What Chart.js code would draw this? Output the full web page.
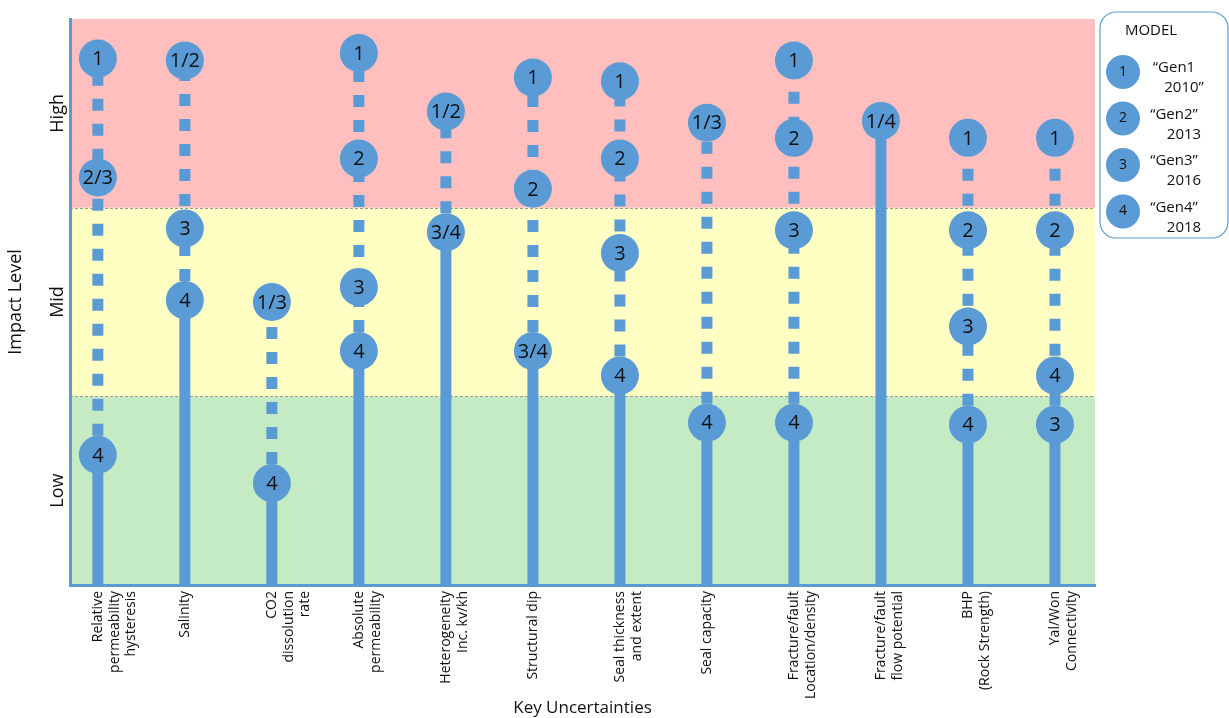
<!DOCTYPE html>
<html>
<head>
<meta charset="utf-8">
<script src="https://cdn.jsdelivr.net/npm/chart.js@4/dist/chart.umd.min.js"></script>
<style>
  body { margin: 0; background: #fff; }
  #wrap { width: 1229px; height: 718px; position: relative; }
</style>
</head>
<body>
<div id="wrap"><canvas id="chart"></canvas></div>
<script>
const categories = [
    ['Relative', 'permeability', 'hysteresis'],
    ['Salinity'],
    ['CO2', 'dissolution', 'rate'],
    ['Absolute', 'permeability'],
    ['Heterogeneity', 'Inc. kv/kh'],
    ['Structural dip'],
    ['Seal thickness', 'and extent'],
    ['Seal capacity'],
    ['Fracture/fault', 'Location/density'],
    ['Fracture/fault', 'flow potential'],
    ['BHP', '(Rock Strength)'],
    ['Yal/Won', 'Connectivity']
];
// impact level per marker (0 = bottom, 1 = low/mid, 2 = mid/high, 3 = top)
const markerLabels = [
    ['1', '2/3', '4'],
    ['1/2', '3', '4'],
    ['1/3', '4'],
    ['1', '2', '3', '4'],
    ['1/2', '3/4'],
    ['1', '2', '3/4'],
    ['1', '2', '3', '4'],
    ['1/3', '4'],
    ['1', '2', '3', '4'],
    ['1/4'],
    ['1', '2', '3', '4'],
    ['1', '2', '4', '3']
];
const markerValues = [
    [2.79, 2.16, 0.69],
    [2.78, 1.89, 1.51],
    [1.50, 0.54],
    [2.82, 2.26, 1.58, 1.24],
    [2.51, 1.87],
    [2.69, 2.10, 1.24],
    [2.67, 2.26, 1.76, 1.11],
    [2.45, 0.86],
    [2.78, 2.37, 1.88, 0.86],
    [2.46],
    [2.37, 1.88, 1.37, 0.85],
    [2.37, 1.88, 1.11, 0.85]
];
const levelTicks = ['Low', 'Mid', 'High'];
const legendItems = [['1', '\u201cGen1', '2010\u201d'], ['2', '\u201cGen2\u201d', '2013'], ['3', '\u201cGen3\u201d', '2016'], ['4', '\u201cGen4\u201d', '2018']];

const BLUE = '#5b9bd5';

const datasets = [];
const points = [];
const pointText = [];
markerValues.forEach((vals, i) => {
    const x = i + 1;
    const lo = Math.min(...vals), hi = Math.max(...vals);
    datasets.push({ type: 'line', data: [{ x, y: 0 }, { x, y: lo }], borderColor: BLUE, borderWidth: 11, pointRadius: 0, borderCapStyle: 'butt' });
    if (hi > lo) {
        datasets.push({ type: 'line', data: [{ x, y: lo }, { x, y: hi }], borderColor: BLUE, borderWidth: 11, borderDash: [12, 13], borderDashOffset: 6, pointRadius: 0, borderCapStyle: 'butt' });
    }
    vals.forEach((v, j) => { points.push({ x, y: v }); pointText.push(markerLabels[i][j]); });
});
datasets.push({ type: 'scatter', data: points, backgroundColor: BLUE, borderWidth: 0, pointRadius: 19, pointHoverRadius: 19 });

const bandPlugin = {
    id: 'bands',
    beforeDraw(chart) {
        const { ctx, chartArea: a, scales: { y } } = chart;
        const cols = ['#c4ebc4', '#ffffc4', '#ffbfbf'];
        for (let k = 0; k < 3; k++) {
            const top = y.getPixelForValue(k + 1), bot = y.getPixelForValue(k);
            ctx.fillStyle = cols[k];
            ctx.fillRect(a.left, top, a.right - a.left, bot - top);
        }
        ctx.save();
        ctx.strokeStyle = '#999';
        ctx.lineWidth = 1;
        ctx.setLineDash([3, 2]);
        [1, 2].forEach(v => {
            const p = Math.round(y.getPixelForValue(v)) + 0.5;
            ctx.beginPath(); ctx.moveTo(a.left, p); ctx.lineTo(a.right, p); ctx.stroke();
        });
        ctx.restore();
    },
    afterDatasetsDraw(chart) {
        const { ctx } = chart;
        const meta = chart.getDatasetMeta(chart.data.datasets.length - 1);
        ctx.save();
        ctx.fillStyle = '#111';
        ctx.font = '20px "Open Sans", sans-serif';
        ctx.textAlign = 'center';
        ctx.textBaseline = 'middle';
        meta.data.forEach((el, i) => ctx.fillText(pointText[i], el.x, el.y + 1));
        ctx.restore();
    },
    afterDraw(chart) {
        const { ctx, scales: { y } } = chart;
        ctx.save();
        // rotated level labels and axis title
        ctx.fillStyle = '#111';
        ctx.font = '18px "Open Sans", sans-serif';
        ctx.textAlign = 'center'; ctx.textBaseline = 'middle';
        levelTicks.forEach((t, i) => {
            ctx.save();
            ctx.translate(58, y.getPixelForValue(i + 0.5));
            ctx.rotate(-Math.PI / 2);
            ctx.fillText(t, 0, 0);
            ctx.restore();
        });
        ctx.save();
        ctx.translate(16, y.getPixelForValue(1.5));
        ctx.rotate(-Math.PI / 2);
        ctx.fillText('Impact Level', 0, 0);
        ctx.restore();
        // legend box
        const bx = 1100, by = 12, bw = 128, bh = 226;
        ctx.strokeStyle = BLUE; ctx.lineWidth = 1.2;
        ctx.beginPath(); ctx.roundRect(bx, by, bw, bh, 16); ctx.stroke();
        ctx.font = '15px "Open Sans", sans-serif';
        ctx.fillText('MODEL', 1151, 31);
        legendItems.forEach((it, k) => {
            const cy = 72 + k * 46.5;
            ctx.fillStyle = BLUE;
            ctx.beginPath(); ctx.arc(1123, cy, 17, 0, Math.PI * 2); ctx.fill();
            ctx.fillStyle = '#111';
            ctx.font = '14px "Open Sans", sans-serif';
            ctx.fillText(it[0], 1123, cy);
            ctx.font = '15px "Open Sans", sans-serif';
            ctx.fillText(it[1], 1174, cy - 4);
            ctx.fillText(it[2], 1184, cy + 16);
        });
        ctx.restore();
    }
};

new Chart(document.getElementById('chart').getContext('2d'), {
    data: { datasets },
    options: {
        responsive: true,
        maintainAspectRatio: false,
        animation: false,
        layout: { padding: { top: 2, right: 134, left: 0, bottom: 0 } },
        plugins: { legend: { display: false }, tooltip: { enabled: false } },
        scales: {
            x: {
                type: 'linear',
                min: 0.68,
                max: 12.46,
                afterBuildTicks(scale) { scale.ticks = categories.map((c, i) => ({ value: i + 1 })); },
                afterFit(scale) { scale.height = 133; },
                grid: { display: false, drawTicks: false },
                border: { color: BLUE, width: 3 },
                ticks: {
                    autoSkip: false, maxRotation: 90, minRotation: 90,
                    color: '#111', padding: 6,
                    font: { family: 'Open Sans', size: 14 },
                    callback: (v) => categories[v - 1]
                },
                title: { display: true, text: 'Key Uncertainties', color: '#111', font: { family: 'Open Sans', size: 17 }, padding: { top: 0, bottom: 0 } }
            },
            y: {
                min: 0, max: 3,
                afterBuildTicks(scale) { scale.ticks = []; },
                afterFit(scale) { scale.width = 70; },
                grid: { display: false, drawTicks: false },
                border: { color: BLUE, width: 3 },
                ticks: { display: false }
            }
        }
    },
    plugins: [bandPlugin]
});
</script>
</body>
</html>
